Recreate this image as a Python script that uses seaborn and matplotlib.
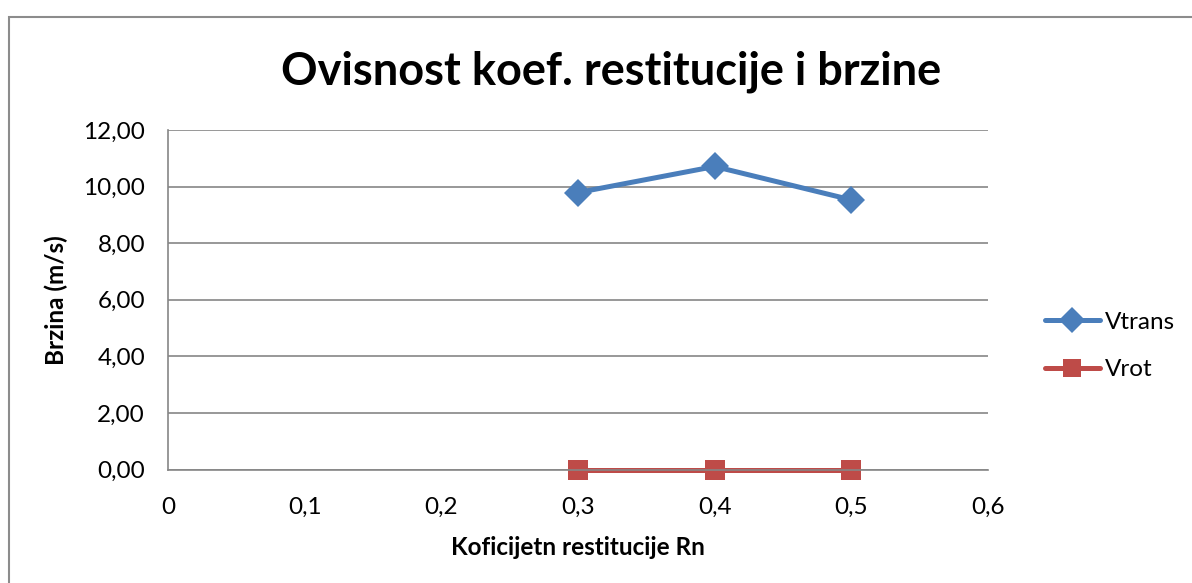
import matplotlib
matplotlib.use("Agg")
import matplotlib.pyplot as plt
import matplotlib.patches as mpatches
from matplotlib.ticker import FuncFormatter, MultipleLocator
import seaborn as sns
import pandas as pd

# Coefficient of restitution vs. velocity
rn = [0.3, 0.4, 0.5]
v_trans = [9.79, 10.71, 9.53]
v_rot = [0.0, 0.0, 0.0]
series_names = ["Vtrans", "Vrot"]

title = "Ovisnost koef. restitucije i brzine"
x_label = "Koficijetn restitucije Rn"
y_label = "Brzina (m/s)"

df = pd.DataFrame({
    "Rn": rn * 2,
    "Brzina": v_trans + v_rot,
    "Serija": [series_names[0]] * len(rn) + [series_names[1]] * len(rn),
})

sns.set_theme(style="white")
plt.rcParams["font.family"] = ["Lato", "DejaVu Sans"]
plt.rcParams["text.color"] = "black"
plt.rcParams["axes.labelcolor"] = "black"

W, H = 1192, 583
fig = plt.figure(figsize=(W / 100, H / 100), dpi=100)
ax = fig.add_axes([168 / W, 1 - 469.5 / H, (988 - 168) / W, (469.5 - 130) / H])

# Outer chart frame
fig.patches.append(mpatches.Rectangle((8.5 / W, -0.05), 1.2, 1 - 16.5 / H + 0.05,
                                      transform=fig.transFigure, fill=False,
                                      edgecolor="#8c8c8c", linewidth=1.5))

palette = {"Vtrans": "#4A7EBB", "Vrot": "#BE4B48"}
markers = {"Vtrans": "D", "Vrot": "s"}
sns.lineplot(data=df, x="Rn", y="Brzina", hue="Serija", style="Serija",
             palette=palette, markers=markers, dashes=False, linewidth=3.6,
             markersize=14.5, markeredgewidth=0, ax=ax, legend=False, clip_on=False)

ax.set_xlim(0, 0.6)
ax.set_ylim(0, 12)
ax.xaxis.set_major_locator(MultipleLocator(0.1))
ax.yaxis.set_major_locator(MultipleLocator(2))
ax.xaxis.set_major_formatter(FuncFormatter(
    lambda v, p: "0" if abs(v) < 1e-9 else f"{v:.1f}".replace(".", ",")))
ax.yaxis.set_major_formatter(FuncFormatter(lambda v, p: f"{v:.2f}".replace(".", ",")))
ax.tick_params(axis="both", labelsize=17.5, colors="black", length=0)
ax.tick_params(axis="x", pad=20)
ax.tick_params(axis="y", pad=16.5)

ax.grid(axis="y", color="#868686", linewidth=1.2)
ax.grid(axis="x", visible=False)
ax.set_axisbelow(True)
for side in ["top", "right"]:
    ax.spines[side].set_visible(False)
for side in ["left", "bottom"]:
    ax.spines[side].set_color("#868686")
    ax.spines[side].set_linewidth(1.2)

ax.set_xlabel(x_label, fontsize=17.5, fontweight="bold", labelpad=13)
ax.set_ylabel(y_label, fontsize=17.5, fontweight="bold", labelpad=11)
fig.text(611 / W, 1 - 72 / H, title, ha="center", va="center",
         fontsize=32.5, fontweight="bold")

# Legend
handles = [
    plt.Line2D([], [], color=palette[n], marker=markers[n], linewidth=3.6,
               markersize=13, markeredgewidth=0)
    for n in series_names
]
fig.legend(handles, series_names, loc="center left",
           bbox_to_anchor=(1045 / W, 1 - 346 / H), frameon=False,
           fontsize=17.5, handlelength=2.26, handletextpad=0.2,
           labelspacing=1.1, borderpad=0, borderaxespad=0)

fig.savefig("out.png", dpi=100)
